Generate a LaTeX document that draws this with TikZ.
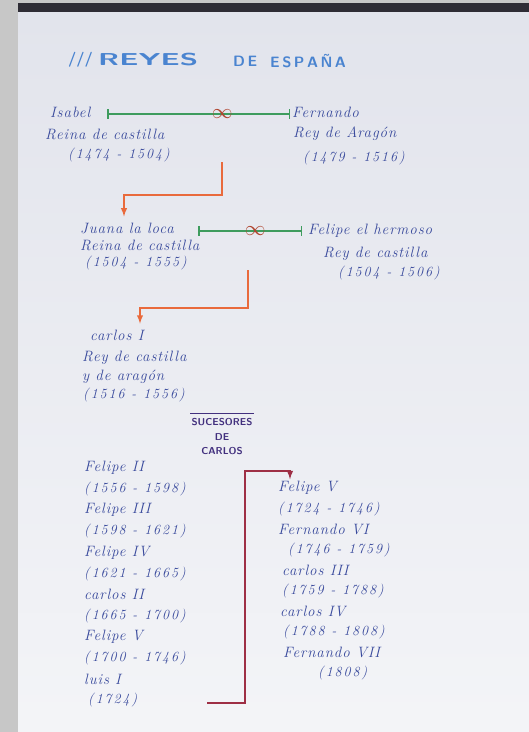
\documentclass[tikz,border=0pt]{standalone}
\usepackage{fontspec}
\setmainfont{Latin Modern Roman}
\usetikzlibrary{positioning}
\definecolor{tinta}{HTML}{38499C}
\definecolor{cielo}{HTML}{4A84D0}
\definecolor{verde}{HTML}{3E9C5E}
\definecolor{naranja}{HTML}{E96A3C}
\definecolor{granate}{HTML}{9E2F45}
\definecolor{morado}{HTML}{42307E}
\definecolor{anillo}{HTML}{B0452F}
\definecolor{papel}{HTML}{E2E4EC}
\definecolor{marco}{HTML}{C7C7C7}
\definecolor{barra}{HTML}{2E2C35}
\tikzset{
  rey/.style={anchor=west, inner sep=0pt, text=tinta,
    font=\fontsize{15}{17}\selectfont\itshape\addfontfeature{LetterSpace=6}},
  fecha/.style={rey, font=\fontsize{14}{16}\selectfont\itshape\addfontfeature{LetterSpace=14}},
  titulo/.style={anchor=west, inner sep=0pt, text=cielo,
    font=\fontsize{15}{17}\selectfont\sffamily\bfseries},
  boda/.style={|-|, line width=1.5pt, color=verde},
  aros/.style={text=anillo, inner sep=0pt, font=\fontsize{20}{20}\selectfont\bfseries},
  hijo/.style={-latex, line width=1.8pt, color=naranja},
  sucesion/.style={-latex, line width=1.8pt, color=granate},
}
\begin{document}
\begin{tikzpicture}[x=1pt,y=-1pt]
\useasboundingbox (0,0) rectangle (529,732);
\fill[marco] (0,0) rectangle (529,732);
\shade[top color=papel, bottom color=papel!40!white] (18,12) rectangle (529,732);
\fill[barra] (18,3) rectangle (529,12);
% title
\node[titulo] (raya) at (68,60) {///};
\node[titulo] (reyes) at (98,60) {\scalebox{2}[1.15]{REYES}};
\node[titulo] (de) at (233,61) {D\,E};
\node[titulo] (espana) at (270,61) {E\,S\,P\,A\,Ñ\,A};
% Isabel y Fernando
\node[rey] (isabel) at (50,112) {Isabel};
\node[rey] (reinaI) at (45,134) {Reina de castilla};
\node[fecha] (fechaI) at (68,155) {(1474 - 1504)};
\node[rey] (fernando) at (292,112) {Fernando};
\node[rey] (reyF) at (293,134) {Rey de Aragón};
\node[fecha] (fechaF) at (303,158) {(1479 - 1516)};
\draw[boda] (107,114) -- ([xshift=-2pt,yshift=-2pt]fernando.west)
  node[pos=0.63, aros] (anillo1) {$\infty$};
% Juana y Felipe
\node[rey] (juana) at (80,228) {Juana la loca};
\node[rey] (reinaJ) at (80,245) {Reina de castilla};
\node[fecha] (fechaJ) at (85,263) {(1504 - 1555)};
\node[rey] (felipeH) at (308,231) {Felipe el hermoso};
\node[rey] (reyFH) at (323,254) {Rey de castilla};
\node[fecha] (fechaFH) at (338,273) {(1504 - 1506)};
\draw[boda] (198,231) -- ([xshift=-6pt]felipeH.west)
  node[pos=0.55, aros] (anillo2) {$\infty$};
\draw[hijo] (anillo1 |- fechaI.south) -- ++(0,33) -| ([xshift=44pt,yshift=6pt]juana.north west);
% Carlos I
\node[rey] (carlos) at (90,335) {carlos I};
\node[rey] (reyC) at (82,358) {Rey de castilla};
\node[rey] (aragonC) at (82,377) {y de aragón};
\node[fecha] (fechaC) at (83,395) {(1516 - 1556)};
\draw[hijo] ([xshift=-7pt]anillo2 |- fechaJ.south) -- ++(0,38) -| ([xshift=50pt,yshift=6pt]carlos.north west);
% sucesores
\node[align=center, text=morado, inner sep=1pt, font=\fontsize{10}{14.5}\selectfont\sffamily\bfseries\addfontfeature{LetterSpace=8}]
  (suc) at (222,437) {SUCESORES\\DE\\CARLOS};
\draw[morado, line width=1.3pt] ([yshift=4pt]suc.north west) -- ([yshift=4pt]suc.north east);
\foreach \x/\t/\s [count=\i] in {84/Felipe II/rey, 84/(1556 - 1598)/fecha, 84/Felipe III/rey,
  84/(1598 - 1621)/fecha, 84/Felipe IV/rey, 84/(1621 - 1665)/fecha, 84/carlos II/rey,
  84/(1665 - 1700)/fecha, 84/Felipe V/rey, 84/(1700 - 1746)/fecha, 84/luis I/rey, 88/(1724)/fecha}
  \node[\s] (izq\i) at ({\x},{468+21.1*(\i-1)}) {\t};
\foreach \x/\t/\s [count=\i] in {278/Felipe V/rey, 278/(1724 - 1746)/fecha, 278/Fernando VI/rey,
  288/(1746 - 1759)/fecha, 282/carlos III/rey, 282/(1759 - 1788)/fecha, 280/carlos IV/rey,
  283/(1788 - 1808)/fecha, 283/Fernando VII/rey, 318/(1808)/fecha}
  \node[\s] (der\i) at ({\x},{488+20.5*(\i-1)}) {\t};
\coordinate (finI) at (207,703);
\draw[sucesion] (finI) -- ++(38,0) -- ++(0,-232) -| ([xshift=12pt,yshift=2pt]der1.north west);
\end{tikzpicture}
\end{document}
